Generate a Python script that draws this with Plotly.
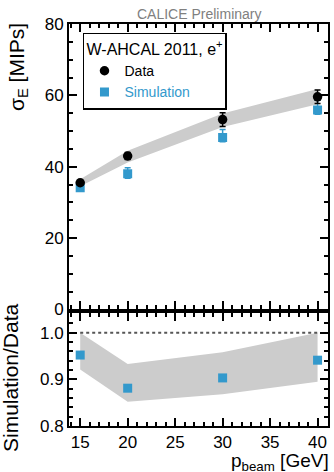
import plotly.graph_objects as go

# ---- data ----
p_beam = [15, 20, 30, 40]
data_sigma = [35.5, 43.0, 53.2, 59.6]
data_err = [0.7, 1.0, 1.9, 1.9]
sim_sigma = [34.1, 38.0, 48.2, 55.9]
sim_err_up = [0.9, 1.7, 2.2, 2.7]
sim_err_dn = [0.9, 1.2, 1.2, 1.2]
band_up = [36.5, 44.5, 54.9, 61.8]
band_dn = [34.5, 41.2, 51.1, 57.5]

ratio = [0.952, 0.881, 0.903, 0.941]
ratio_band_up = [1.0, 0.933, 0.958, 1.0]
ratio_band_dn = [0.921, 0.852, 0.868, 0.895]
unity_x = [15, 40]
unity_y = [1.0, 1.0]

BLUE = "#3399cc"
GREY = "#cccccc"
FONT = "Liberation Sans"

fig = go.Figure()

# top panel band
fig.add_trace(go.Scatter(
    x=p_beam + p_beam[::-1], y=band_up + band_dn[::-1],
    fill="toself", fillcolor=GREY, line=dict(width=0), mode="lines",
    showlegend=False, hoverinfo="skip", xaxis="x2", yaxis="y2"))

fig.add_trace(go.Scatter(
    x=p_beam, y=sim_sigma, mode="markers", name="<span style='color:%s'>Simulation</span>" % BLUE,
    marker=dict(symbol="square", size=9, color=BLUE),
    error_y=dict(type="data", array=sim_err_up, arrayminus=sim_err_dn, color=BLUE, thickness=1.5, width=3),
    xaxis="x2", yaxis="y2"))

fig.add_trace(go.Scatter(
    x=p_beam, y=data_sigma, mode="markers", name="Data",
    marker=dict(symbol="circle", size=9.5, color="black"),
    error_y=dict(type="data", array=data_err, color="black", thickness=1.5, width=3),
    xaxis="x2", yaxis="y2"))

# bottom panel
fig.add_trace(go.Scatter(
    x=p_beam + p_beam[::-1], y=ratio_band_up + ratio_band_dn[::-1],
    fill="toself", fillcolor=GREY, line=dict(width=0), mode="lines",
    showlegend=False, hoverinfo="skip", xaxis="x", yaxis="y"))
fig.add_trace(go.Scatter(
    x=unity_x, y=unity_y, mode="lines", line=dict(color="#555555", width=2, dash="dot"),
    showlegend=False, xaxis="x", yaxis="y"))
fig.add_trace(go.Scatter(
    x=p_beam, y=ratio, mode="markers",
    marker=dict(symbol="square", size=9, color=BLUE),
    showlegend=False, xaxis="x", yaxis="y"))

axis_common = dict(showline=True, linecolor="black", linewidth=2, mirror="allticks",
                   ticks="inside", ticklen=8, tickwidth=1.5, tickcolor="black",
                   showgrid=False, zeroline=False,
                   tickfont=dict(family=FONT, size=17, color="black"))

fig.update_layout(
    width=334, height=472,
    margin=dict(l=69, r=4, t=24, b=46),
    paper_bgcolor="white", plot_bgcolor="white",
    font=dict(family=FONT, color="black"),
    xaxis=dict(domain=[0, 1], range=[13.82, 41.1], tick0=15, dtick=5, anchor="y",
               minor=dict(dtick=1, ticks="inside", ticklen=4, tickcolor="black", tickwidth=1.5),
               **axis_common),
    yaxis=dict(domain=[0, 0.281], range=[0.8, 1.042], tick0=0.8, dtick=0.1, tickformat=".1f",
               anchor="x",
               minor=dict(dtick=0.02, ticks="inside", ticklen=4, tickcolor="black", tickwidth=1.5),
               **axis_common),
    xaxis2=dict(domain=[0, 1], range=[13.82, 41.1], tick0=15, dtick=5, anchor="y2",
                matches="x", showticklabels=False,
                minor=dict(dtick=1, ticks="inside", ticklen=4, tickcolor="black", tickwidth=1.5),
                **axis_common),
    yaxis2=dict(domain=[0.29, 1], range=[0, 80], tick0=0, dtick=20, anchor="x2",
                minor=dict(dtick=5, ticks="inside", ticklen=4, tickcolor="black", tickwidth=1.5),
                **axis_common),
    legend=dict(x=0.054, y=0.978, xanchor="left", yanchor="top",
                bgcolor="white", bordercolor="black", borderwidth=1.5,
                font=dict(family=FONT, size=14, color="black"),
                title=dict(text="W-AHCAL 2011, e<sup>+</sup>", font=dict(family=FONT, size=16, color="black")),
                traceorder="reversed", itemwidth=30, tracegroupgap=0),
    showlegend=True,
)

fig.add_annotation(text="CALICE Preliminary", xref="paper", yref="paper", x=0.5, y=1,
                   xanchor="center", yanchor="bottom", yshift=0, showarrow=False,
                   font=dict(family=FONT, size=14, color="#808080"))
fig.add_annotation(text="σ<sub>E</sub> [MIPs]", xref="paper", yref="paper", x=0, y=1,
                   xanchor="right", yanchor="top", xshift=-36, yshift=3, textangle=-90, showarrow=False,
                   font=dict(family=FONT, size=21, color="black"))
fig.add_annotation(text="Simulation/Data", xref="paper", yref="paper", x=0, y=0.281,
                   xanchor="right", yanchor="top", xshift=-45, yshift=12, textangle=-90, showarrow=False,
                   font=dict(family=FONT, size=21, color="black"))
fig.add_annotation(text="p<sub>beam</sub> [GeV]", xref="paper", yref="paper", x=1, y=0,
                   xanchor="right", yanchor="top", xshift=3, yshift=-22, showarrow=False,
                   font=dict(family=FONT, size=19, color="black"))

fig.write_html("out.html")
